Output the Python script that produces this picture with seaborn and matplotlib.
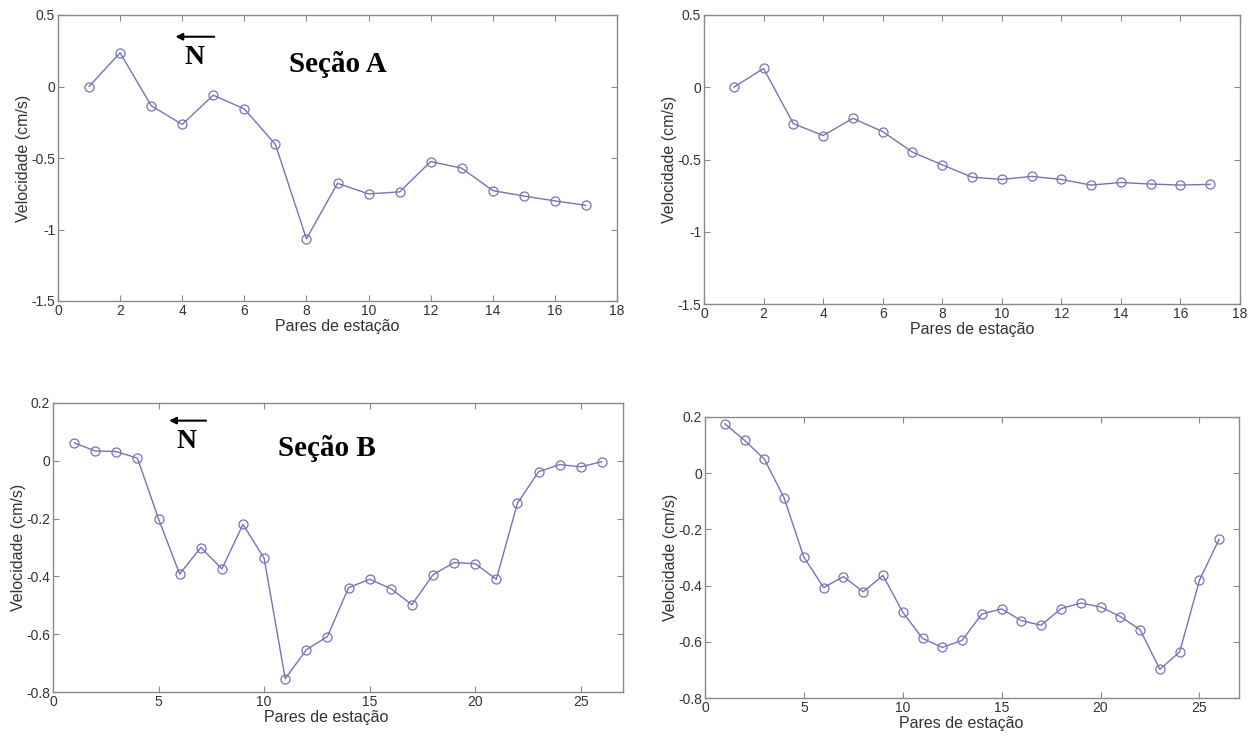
import numpy as np
import pandas as pd
import matplotlib
matplotlib.use("Agg")
import matplotlib.pyplot as plt
import seaborn as sns
from matplotlib.ticker import FuncFormatter

# ---- data ----
pares_A = list(range(1, 18))
vel_A_esq = [0.0, 0.236, -0.134, -0.265, -0.061, -0.157, -0.405, -1.065, -0.677,
             -0.751, -0.737, -0.525, -0.571, -0.728, -0.766, -0.800, -0.831]
vel_A_dir = [0.0, 0.13, -0.252, -0.334, -0.215, -0.307, -0.449, -0.537, -0.622,
             -0.638, -0.617, -0.638, -0.677, -0.659, -0.670, -0.677, -0.672]

pares_B = list(range(1, 27))
vel_B_esq = [0.062, 0.034, 0.032, 0.009, -0.201, -0.392, -0.300, -0.374, -0.220,
             -0.337, -0.754, -0.654, -0.608, -0.439, -0.410, -0.442, -0.498,
             -0.394, -0.352, -0.356, -0.410, -0.147, -0.038, -0.013, -0.021, -0.003]
vel_B_dir = [0.176, 0.117, 0.050, -0.088, -0.299, -0.407, -0.368, -0.422, -0.364,
             -0.495, -0.588, -0.620, -0.595, -0.501, -0.483, -0.525, -0.541,
             -0.482, -0.462, -0.476, -0.510, -0.557, -0.698, -0.636, -0.381, -0.234]

yticks_A = [-1.5, -1, -0.5, 0, 0.5]
xticks_A = [0, 2, 4, 6, 8, 10, 12, 14, 16, 18]
yticks_B = [-0.8, -0.6, -0.4, -0.2, 0, 0.2]
xticks_B = [0, 5, 10, 15, 20, 25]

xlabel = "Pares de estação"
ylabel = "Velocidade (cm/s)"

# ---- style ----
sns.set_style("ticks")
plt.rcParams["font.family"] = ["Liberation Sans", "DejaVu Sans"]
plt.rcParams["axes.unicode_minus"] = False

line_color = "#7474b8"
spine_color = "#8a8a8a"
text_color = "#333333"

fig = plt.figure(figsize=(12.54, 7.37), dpi=100)
W, H = 1254, 737

def make_ax(l, r, t, b):
    return fig.add_axes([l / W, (H - b) / H, (r - l) / W, (b - t) / H])

axes = [
    make_ax(58, 617, 15, 301),
    make_ax(704, 1240, 15, 304),
    make_ax(53, 623, 403, 692),
    make_ax(705, 1239, 417, 698),
]

series = [
    (pares_A, vel_A_esq, (0, 18), (-1.5, 0.5), xticks_A, yticks_A, 0.5),
    (pares_A, vel_A_dir, (0, 18), (-1.5, 0.5), xticks_A, yticks_A, 0.5),
    (pares_B, vel_B_esq, (0, 27), (-0.8, 0.2), xticks_B, yticks_B, 0.48),
    (pares_B, vel_B_dir, (0, 27), (-0.8, 0.2), xticks_B, yticks_B, 0.48),
]

fmt = FuncFormatter(lambda v, p: ("%g" % round(v, 3)))

for ax, (x, y, xl, yl, xt, yt, xlab_pos) in zip(axes, series):
    df = pd.DataFrame({"x": x, "y": y})
    sns.lineplot(data=df, x="x", y="y", ax=ax, color=line_color, linewidth=1.0,
                 marker="o", markersize=6.5, markerfacecolor="none",
                 markeredgecolor=line_color, markeredgewidth=0.9)
    ax.set_xlim(*xl)
    ax.set_ylim(*yl)
    ax.set_xticks(xt)
    ax.set_yticks(yt)
    ax.xaxis.set_major_formatter(fmt)
    ax.yaxis.set_major_formatter(fmt)
    ax.tick_params(direction="in", top=True, right=True, length=4, width=0.8,
                   color=spine_color, labelsize=10, labelcolor=text_color, pad=2)
    for s in ax.spines.values():
        s.set_visible(True)
        s.set_color(spine_color)
        s.set_linewidth(1.0)
    ax.set_xlabel(xlabel, fontsize=11.5, color=text_color, labelpad=1)
    ax.xaxis.label.set_x(xlab_pos)
    ax.set_ylabel(ylabel, fontsize=11.5, color=text_color, labelpad=0)

# annotations
serif = ["Liberation Serif", "DejaVu Serif"]
axes[0].text(7.43, 0.155, "Seção A", family=serif, fontweight="bold", fontsize=21,
             color="black", va="center", ha="left")
axes[0].text(4.38, 0.205, "N", family=serif, fontweight="bold", fontsize=20,
             color="black", va="center", ha="center")
axes[0].annotate("", xy=(3.78, 0.348), xytext=(5.03, 0.348),
                 arrowprops=dict(arrowstyle="-|>", color="black", lw=1.5,
                                 mutation_scale=10, shrinkA=0, shrinkB=0))

axes[2].text(10.67, 0.042, "Seção B", family=serif, fontweight="bold", fontsize=21,
             color="black", va="center", ha="left")
axes[2].text(6.34, 0.068, "N", family=serif, fontweight="bold", fontsize=20,
             color="black", va="center", ha="center")
axes[2].annotate("", xy=(5.50, 0.139), xytext=(7.25, 0.139),
                 arrowprops=dict(arrowstyle="-|>", color="black", lw=1.5,
                                 mutation_scale=10, shrinkA=0, shrinkB=0))

fig.savefig("out.png", dpi=100, facecolor="white")
